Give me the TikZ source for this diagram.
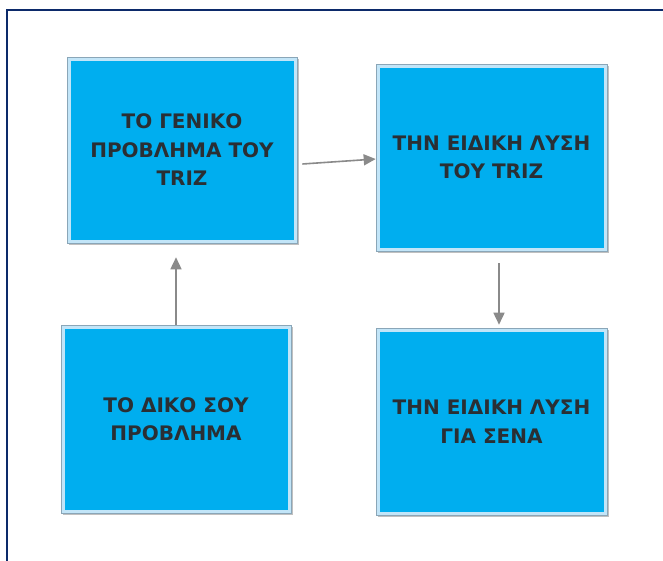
\documentclass[tikz,border=0pt]{standalone}
\usepackage{fontspec}
\setmainfont{DejaVu Sans}
\usetikzlibrary{arrows.meta,shadows}
\definecolor{frameblue}{HTML}{0C2A6A}
\definecolor{boxfill}{HTML}{00AEEF}
\definecolor{boxrim}{HTML}{C2E5F8}
\definecolor{boxedge}{HTML}{8AA6B8}
\definecolor{labelgrey}{HTML}{2A2F34}
\definecolor{linkgrey}{HTML}{8A8A8A}
\tikzset{
  stepbox/.style={
    rectangle, fill=boxrim, draw=boxedge, line width=0.6pt,
    drop shadow={shadow xshift=1.5pt, shadow yshift=-1.8pt, opacity=0.35, fill=black!70},
    path picture={
      \fill[boxfill] ([shift={(3.5pt,3.5pt)}]path picture bounding box.south west)
        rectangle ([shift={(-3.5pt,-3.5pt)}]path picture bounding box.north east);
    },
    align=center, text=labelgrey,
    font=\fontsize{20pt}{28.5pt}\selectfont\bfseries,
    inner sep=0pt
  },
  link/.style={draw=linkgrey, line width=1.6pt, -{Triangle[length=12pt,width=11pt]}}
}
\begin{document}
\begin{tikzpicture}[x=1pt,y=-1pt]
  \useasboundingbox (0,0) rectangle (663,560);
  \clip (0,0) rectangle (663,560);
  \fill[white] (0,0) rectangle (663,560);
  % outer frame
  \draw[frameblue, line width=2.2pt] (7,580) -- (7,10) -- (680,10);

  % the four boxes
  \node[stepbox, minimum width=230pt, minimum height=186pt] (general) at (182,150)
    {ΤΟ ΓΕΝΙΚΟ\\ΠΡΟΒΛΗΜΑ ΤΟΥ\\TRIZ};
  \node[stepbox, minimum width=231pt, minimum height=187pt] (trizsol) at (491.5,157.5)
    {ΤΗΝ ΕΙΔΙΚΗ ΛΥΣΗ\\ΤΟΥ TRIZ};
  \node[stepbox, minimum width=230pt, minimum height=188pt] (own) at (176,419)
    {\raisebox{-3pt}{\parbox{200pt}{\centering ΤΟ ΔΙΚΟ ΣΟΥ\\ΠΡΟΒΛΗΜΑ}}};
  \node[stepbox, minimum width=231pt, minimum height=187pt] (yours) at (491.5,421.5)
    {\raisebox{-3pt}{\parbox{220pt}{\centering ΤΗΝ ΕΙΔΙΚΗ ΛΥΣΗ\\ΓΙΑ ΣΕΝΑ}}};

  % connectors
  \draw[link] (own.north) -- ([shift={(-6,14)}]general.south);
  \draw[link] ([shift={(5,14)}]general.east) -- ([shift={(0,1.5)}]trizsol.west);
  \draw[link] ([shift={(7.5,12)}]trizsol.south) -- ([shift={(7.5,-3)}]yours.north);
\end{tikzpicture}
\end{document}
